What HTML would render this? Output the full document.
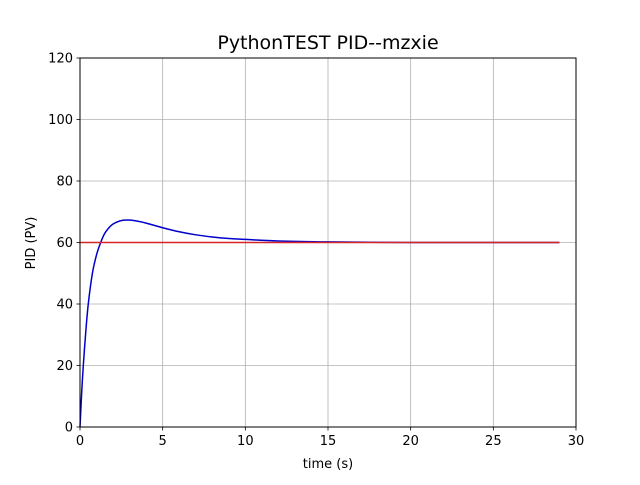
<!DOCTYPE html>
<html><head><meta charset="utf-8"><style>
body{margin:0;background:#fff;}
svg text{font-family:"DejaVu Sans","Liberation Sans",sans-serif;fill:#000;}
</style></head><body>
<svg id="chart" width="640" height="480" viewBox="0 0 640 480">
<rect width="640" height="480" fill="#fff"/>
<g id="grid"></g>
<g id="ticks"></g>
<g id="series"></g>
<rect x="80" y="58" width="496" height="369" fill="none" stroke="#000" stroke-width="1"/>
<text x="328" y="49" font-size="19" text-anchor="middle">PythonTEST PID--mzxie</text>
<text x="328" y="468" font-size="13" text-anchor="middle">time (s)</text>
<text x="0" y="0" font-size="13" text-anchor="middle" transform="translate(35,243) rotate(-90)">PID (PV)</text>
</svg>
<script>
const xTicks=[0,5,10,15,20,25,30];
const yTicks=[0,20,40,60,80,100,120];
const pvTime=[0,0.1,0.2,0.35,0.5,0.75,1,1.25,1.5,1.75,2,2.4,2.85,3.3,4,5,6,7,8,9,10,12,15,20,25,29];
const pvValues=[0,11,20,31,40,50,56,60,63,64.8,66,67,67.3,67.1,66.3,64.8,63.5,62.5,61.8,61.3,61,60.5,60.2,60,60,60];
const spTime=[0,29];
const spValues=[60,60];
const L=80,R=576,T=58,B=427;
const sx=v=>L+(v-0)/30*(R-L);
const sy=v=>B-(v-0)/120*(B-T);
const NS="http://www.w3.org/2000/svg";
const grid=document.getElementById('grid'),ticks=document.getElementById('ticks'),series=document.getElementById('series');
function mk(tag,attrs,parent){const e=document.createElementNS(NS,tag);for(const k in attrs)e.setAttribute(k,attrs[k]);parent.appendChild(e);return e;}
xTicks.forEach(v=>{const x=sx(v);
 const g=mk('line',{x1:x,x2:x,y1:T,y2:B,stroke:'#b0b0b0','stroke-width':0.8},grid);
 
 
 const t=mk('line',{x1:x,x2:x,y1:B,y2:B+3.5,stroke:'#000','stroke-width':0.8},ticks);
 
 
 const l=mk('text',{x:x,y:B+18,'font-size':13,'text-anchor':'middle'},ticks);l.textContent=v;
 
 
});
yTicks.forEach(v=>{const y=sy(v);
 const g=mk('line',{x1:L,x2:R,y1:y,y2:y,stroke:'#b0b0b0','stroke-width':0.8},grid);
 
 
 const t=mk('line',{x1:L-3.5,x2:L,y1:y,y2:y,stroke:'#000','stroke-width':0.8},ticks);
 
 
 const l=mk('text',{x:L-7,y:y+4.5,'font-size':13,'text-anchor':'end'},ticks);l.textContent=v;
 
 
});
function path(xs,ys){
 const p=xs.map((t,i)=>[sx(t),sy(ys[i])]);
 let d='M'+p[0][0].toFixed(2)+' '+p[0][1].toFixed(2);
 for(let i=0;i<p.length-1;i++){
  const p0=p[i-1]||p[i],p1=p[i],p2=p[i+1],p3=p[i+2]||p2;
  const c1=[p1[0]+(p2[0]-p0[0])/6,p1[1]+(p2[1]-p0[1])/6];
  const c2=[p2[0]-(p3[0]-p1[0])/6,p2[1]-(p3[1]-p1[1])/6];
  d+=' C'+c1[0].toFixed(2)+' '+c1[1].toFixed(2)+' '+c2[0].toFixed(2)+' '+c2[1].toFixed(2)+' '+p2[0].toFixed(2)+' '+p2[1].toFixed(2);
 }
 return d;
}
const pv=mk('path',{d:path(pvTime,pvValues),fill:'none',stroke:'#0000cc','stroke-width':1.5,'stroke-linejoin':'round'},series);


const sp=mk('path',{d:path(spTime,spValues),fill:'none',stroke:'#d62728','stroke-width':1.5},series);


</script>
</body></html>
